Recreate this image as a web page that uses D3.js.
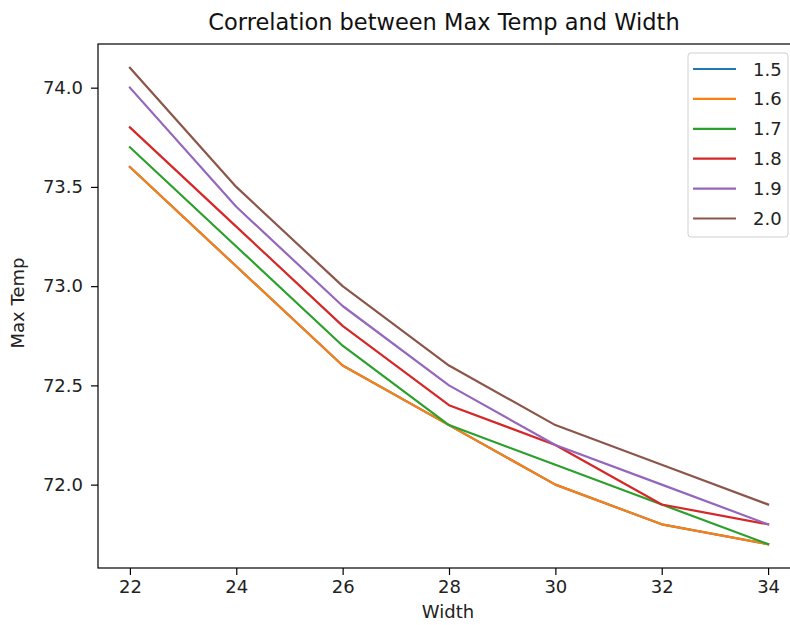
<!DOCTYPE html>
<html>
<head>
<meta charset="utf-8">
<script src="https://cdn.jsdelivr.net/npm/d3@7"></script>
<style>
  body { margin: 0; background: #fff; overflow: hidden; }
  svg { display: block; font-family: "DejaVu Sans", sans-serif; }
</style>
</head>
<body>
<div id="chart"></div>
<script>
const widths = [22, 24, 26, 28, 30, 32, 34];
const seriesNames = ["1.5", "1.6", "1.7", "1.8", "1.9", "2.0"];
const temp15 = [73.6, 73.1, 72.6, 72.3, 72.0, 71.8, 71.7];
const temp16 = [73.6, 73.1, 72.6, 72.3, 72.0, 71.8, 71.7];
const temp17 = [73.7, 73.2, 72.7, 72.3, 72.1, 71.9, 71.7];
const temp18 = [73.8, 73.3, 72.8, 72.4, 72.2, 71.9, 71.8];
const temp19 = [74.0, 73.4, 72.9, 72.5, 72.2, 72.0, 71.8];
const temp20 = [74.1, 73.5, 73.0, 72.6, 72.3, 72.1, 71.9];
const xTicks = [22, 24, 26, 28, 30, 32, 34];
const yTicks = [72.0, 72.5, 73.0, 73.5, 74.0];

const allSeries = [temp15, temp16, temp17, temp18, temp19, temp20];
const colors = ["#1f77b4", "#ff7f0e", "#2ca02c", "#d62728", "#9467bd", "#8c564b"];

const width = 790;
const height = 625;
// the axes run a little past the right edge of the picture, as in the reference
const margin = { top: 44, right: -10, bottom: 57, left: 98 };
const innerWidth = width - margin.left - margin.right;
const innerHeight = height - margin.top - margin.bottom;

const svg = d3.select("#chart")
  .append("svg")
  .attr("width", width)
  .attr("height", height);

const g = svg.append("g")
  .attr("transform", `translate(${margin.left},${margin.top})`);

// matplotlib-style 5% margins
const xPad = (d3.max(widths) - d3.min(widths)) * 0.05;
const yMin = d3.min(allSeries, (s) => d3.min(s));
const yMax = d3.max(allSeries, (s) => d3.max(s));
const yPad = (yMax - yMin) * 0.05;

const x = d3.scaleLinear()
  .domain([d3.min(widths) - xPad, d3.max(widths) + xPad])
  .range([0, innerWidth]);

const y = d3.scaleLinear()
  .domain([yMin - yPad, yMax + yPad])
  .range([innerHeight, 0]);

const line = d3.line()
  .x((d) => x(d[0]))
  .y((d) => y(d[1]));

allSeries.forEach((values, i) => {
  g.append("path")
    .datum(widths.map((w, j) => [w, values[j]]))
    .attr("fill", "none")
    .attr("stroke", colors[i])
    .attr("stroke-width", 2.2)
    .attr("stroke-linejoin", "round")
    .attr("stroke-linecap", "square")
    .attr("d", line);
});

const xAxis = g.append("g")
  .attr("transform", `translate(0,${innerHeight})`)
  .call(d3.axisBottom(x).tickValues(xTicks).tickSize(7).tickPadding(5).tickFormat(d3.format("d")));

const yAxis = g.append("g")
  .call(d3.axisLeft(y).tickValues(yTicks).tickSize(7).tickPadding(8).tickFormat(d3.format(".1f")));

[xAxis, yAxis].forEach((ax) => {
  ax.select(".domain").remove();
  ax.selectAll("line").attr("stroke", "#000").attr("stroke-width", 1.2);
  ax.selectAll("text")
    .attr("fill", "#222")
    .style("font-size", "18px")
    .style("font-family", "DejaVu Sans, sans-serif");
});

// axes frame
g.append("rect")
  .attr("x", 0)
  .attr("y", 0)
  .attr("width", innerWidth)
  .attr("height", innerHeight)
  .attr("fill", "none")
  .attr("stroke", "#000")
  .attr("stroke-width", 1.2);

svg.append("text")
  .attr("x", 444)
  .attr("y", 30)
  .attr("text-anchor", "middle")
  .style("font-size", "22.5px")
  .attr("fill", "#111")
  .text("Correlation between Max Temp and Width");

svg.append("text")
  .attr("x", 448)
  .attr("y", 618)
  .attr("text-anchor", "middle")
  .style("font-size", "18px")
  .attr("fill", "#222")
  .text("Width");

svg.append("text")
  .attr("transform", "translate(24,303) rotate(-90)")
  .attr("text-anchor", "middle")
  .style("font-size", "18px")
  .attr("fill", "#222")
  .text("Max Temp");

// legend
const legend = svg.append("g").attr("transform", "translate(688,53)");
legend.append("rect")
  .attr("width", 100)
  .attr("height", 184)
  .attr("rx", 3)
  .attr("fill", "#fff")
  .attr("fill-opacity", 0.8)
  .attr("stroke", "#d0d0d0");

seriesNames.forEach((name, i) => {
  const yy = 16 + i * 29.9;
  legend.append("line")
    .attr("x1", 5)
    .attr("x2", 48)
    .attr("y1", yy)
    .attr("y2", yy)
    .attr("stroke", colors[i])
    .attr("stroke-width", 2.2);
  legend.append("text")
    .attr("x", 65)
    .attr("y", yy + 6.5)
    .style("font-size", "18px")
    .attr("fill", "#222")
    .text(name);
});
</script>
</body>
</html>
